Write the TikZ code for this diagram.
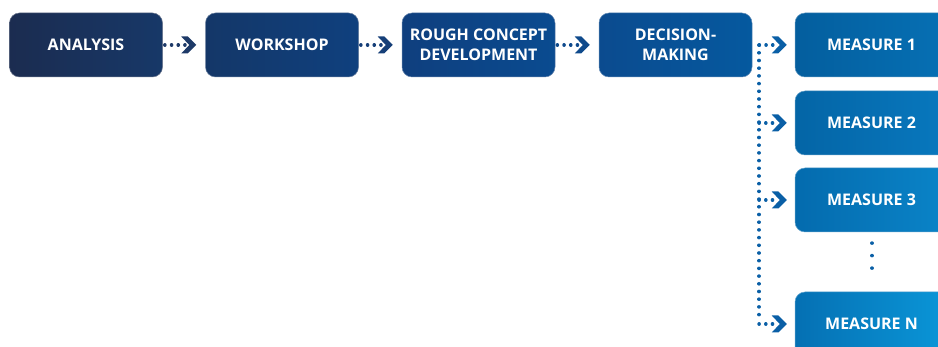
\documentclass[tikz,border=0pt]{standalone}
\usepackage{fontspec}
\setmainfont{Open Sans}
\usetikzlibrary{arrows.meta}
\pgfdeclarearrow{
  name=Chev,
  setup code={%
    \pgfarrowssettipend{0pt}%
    \pgfarrowssetlineend{-10pt}%
    \pgfarrowssetvisualbackend{-15pt}%
    \pgfarrowsupperhullpoint{-15pt}{8.5pt}%
    \pgfarrowsupperhullpoint{0pt}{0pt}},
  drawing code={%
    \pgfpathmoveto{\pgfpoint{0pt}{0pt}}%
    \pgfpathlineto{\pgfpoint{-8.5pt}{8.5pt}}%
    \pgfpathlineto{\pgfpoint{-15pt}{8.5pt}}%
    \pgfpathlineto{\pgfpoint{-7pt}{0pt}}%
    \pgfpathlineto{\pgfpoint{-15pt}{-8.5pt}}%
    \pgfpathlineto{\pgfpoint{-8.5pt}{-8.5pt}}%
    \pgfpathclose
    \pgfusepathqfill}
}
\definecolor{cA1}{HTML}{1B2C50}\definecolor{cA2}{HTML}{173868}
\definecolor{cW1}{HTML}{143768}\definecolor{cW2}{HTML}{0F407E}
\definecolor{cR1}{HTML}{0F3F7E}\definecolor{cR2}{HTML}{0A4B90}
\definecolor{cD1}{HTML}{0B4B8F}\definecolor{cD2}{HTML}{05599F}
\definecolor{cM11}{HTML}{045E9E}\definecolor{cM12}{HTML}{0670B4}
\definecolor{cM21}{HTML}{0465A6}\definecolor{cM22}{HTML}{0878BE}
\definecolor{cM31}{HTML}{046BAE}\definecolor{cM32}{HTML}{0A84C8}
\definecolor{cMN1}{HTML}{0570B3}\definecolor{cMN2}{HTML}{0A96D8}
\definecolor{dot1}{HTML}{1E3A68}\definecolor{dot2}{HTML}{163F78}
\definecolor{dot3}{HTML}{0F4A8C}\definecolor{dot4}{HTML}{0A5FA6}
\begin{document}
\begin{tikzpicture}[x=1pt,y=1pt,
  box/.style 2 args={rounded corners=10pt, minimum width=153pt, minimum height=64pt,
    inner sep=0pt, text=white, align=center, left color=#1, right color=#2,
    draw=white!35!#1, line width=0.5pt,
    font=\bfseries\fontsize{16}{20}\selectfont},
  conn/.style={draw=#1, line width=3.4pt, line cap=round, dash pattern=on 0.2pt off 6.5pt, -Chev},
  dotline/.style={draw=#1, line width=3.4pt, line cap=round, dash pattern=on 0.2pt off 7.5pt}]
\useasboundingbox (0,0) rectangle (938,347);
\clip (0,0) rectangle (938,347);
\node[box={cA1}{cA2}] (an) at (86,302) {ANALYSIS};
\node[box={cW1}{cW2}] (ws) at (282,302) {WORKSHOP};
\node[box={cR1}{cR2}] (rc) at (478.5,302) {ROUGH CONCEPT\\DEVELOPMENT};
\node[box={cD1}{cD2}] (dm) at (675.5,302) {DECISION-\\MAKING};
\node[box={cM11}{cM12}] (m1) at (871.5,302) {MEASURE 1};
\node[box={cM21}{cM22}] (m2) at (871.5,224) {MEASURE 2};
\node[box={cM31}{cM32}] (m3) at (871.5,147) {MEASURE 3};
\node[box={cMN1}{cMN2}] (mN) at (871.5,23) {MEASURE N};
\coordinate (sp1) at (759,302);
\coordinate (spN) at (759,25);
\draw[conn=dot1, shorten <=2pt, shorten >=9pt] (an.east) -- (ws.west);
\draw[conn=dot2, shorten <=2pt, shorten >=9pt] (ws.east) -- (rc.west);
\draw[conn=dot3, shorten <=2pt, shorten >=9pt] (rc.east) -- (dm.west);
\draw[dotline=dot4] (sp1) -- (spN);
\draw[conn=dot4, shorten <=7pt, shorten >=8pt] (dm.east) -- (m1.west);
\draw[conn=dot4, shorten >=8pt] (m2.west -| sp1) -- (m2.west);
\draw[conn=dot4, shorten >=8pt] (m3.west -| sp1) -- (m3.west);
\draw[conn=dot4, shorten >=8pt] (mN.west -| sp1) -- (mN.west);
\coordinate (e1) at (872,104);
\coordinate (e2) at (872,67);
\draw[dotline=dot4, dash pattern=on 0.2pt off 12.3pt] (e1) -- (e2);
\end{tikzpicture}
\end{document}
